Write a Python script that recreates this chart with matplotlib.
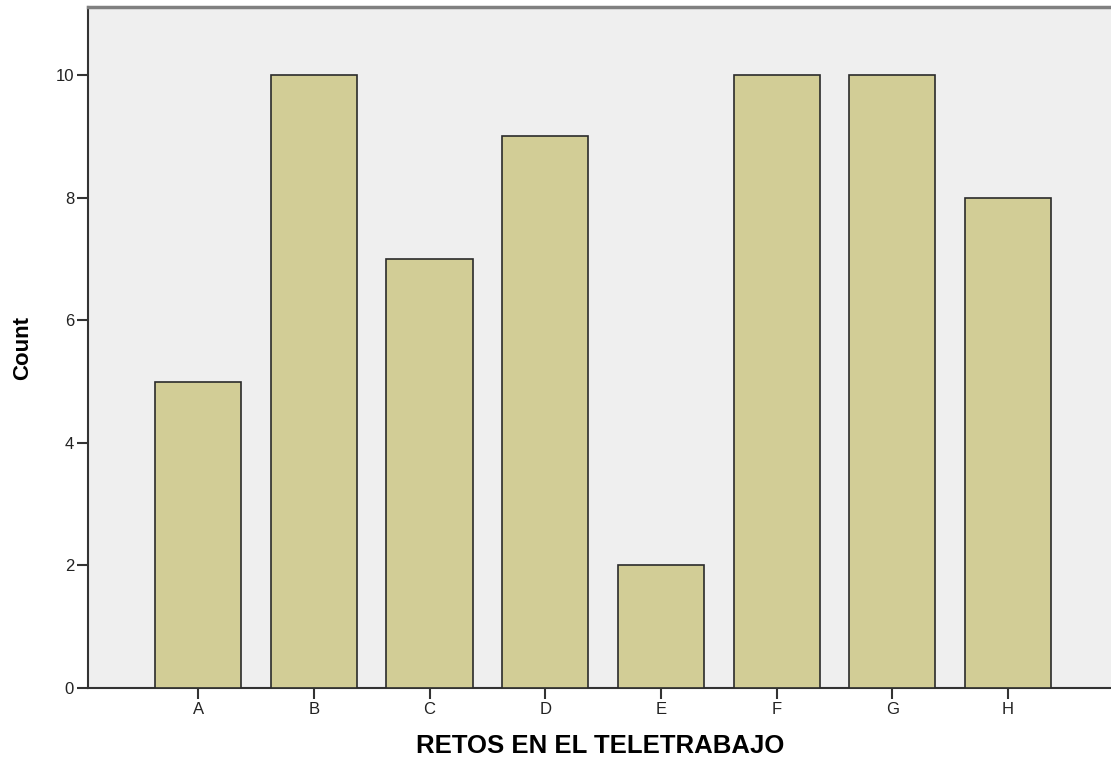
import matplotlib.pyplot as plt

plt.rcParams["font.family"] = ["Liberation Sans", "DejaVu Sans"]

categories = ["A", "B", "C", "D", "E", "F", "G", "H"]
counts = [5, 10, 7, 9, 2, 10, 10, 8]
y_ticks = [0, 2, 4, 6, 8, 10]

fig = plt.figure(figsize=(11.11, 7.61), dpi=100)
ax = fig.add_axes([88 / 1111, 1 - 688 / 761, 1 - 88 / 1111 + 0.002, (688 - 7) / 761])
ax.set_facecolor("#efefef")

x = list(range(len(categories)))
ax.bar(x, counts, width=0.745, color="#d2cd96", edgecolor="#2b2b2b", linewidth=1.2, zorder=3)

ax.set_xlim(-0.953, 7.91)
ax.set_ylim(0, 11.11)
ax.set_xticks(x)
ax.set_xticklabels(categories)
ax.set_yticks(y_ticks)
ax.tick_params(axis="both", direction="out", length=8, width=1.5, color="#333333",
               labelsize=12, labelcolor="#222222", pad=2)

for side in ("left", "bottom"):
    ax.spines[side].set_color("#333333")
    ax.spines[side].set_linewidth(1.5)
ax.spines["top"].set_color("#808080")
ax.spines["top"].set_linewidth(2.5)
ax.spines["right"].set_visible(False)

ax.set_xlabel("RETOS EN EL TELETRABAJO", fontsize=18.5, fontweight="bold", labelpad=12)
ax.set_ylabel("Count", fontsize=16, fontweight="bold", labelpad=16)

fig.savefig("out.png", dpi=100)
